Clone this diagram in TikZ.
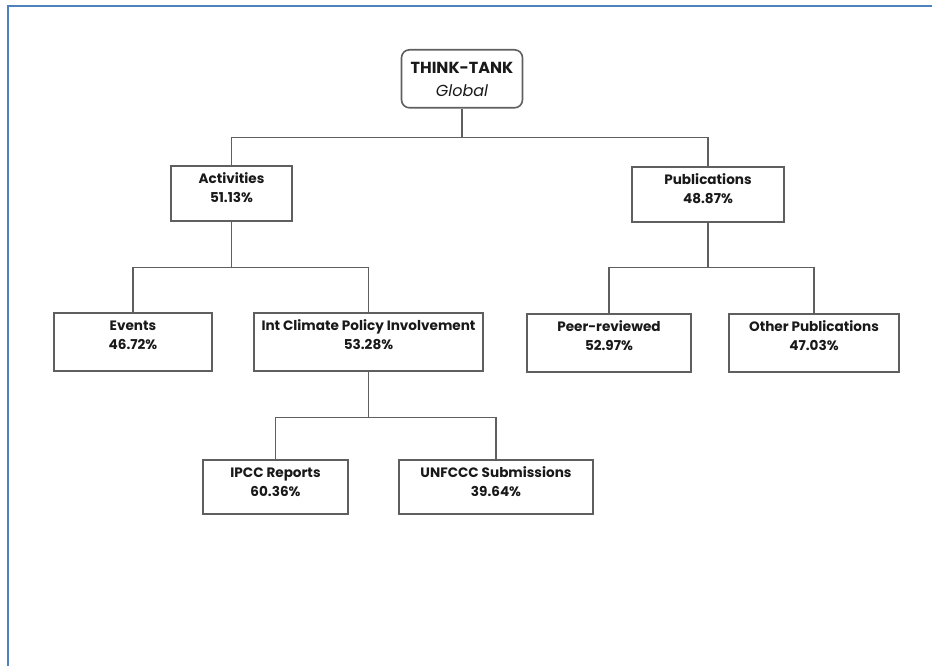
\documentclass[tikz,border=0pt]{standalone}
\usepackage{fontspec}
\setmainfont{Poppins}
\usepackage{tikz}
\definecolor{marco}{RGB}{79,129,189}
\definecolor{linea}{RGB}{95,95,95}
\definecolor{letra}{RGB}{25,25,25}
\tikzstyle{caja}=[draw=linea,line width=1.2pt,anchor=north,align=center,inner sep=0pt,text height=27.75pt,text=letra,font=\fontsize{10.2}{14.25}\selectfont\bfseries]
\tikzstyle{uno}=[caja,text depth=13.5pt]
\tikzstyle{dos}=[caja,text depth=15.75pt]
\tikzstyle{tres}=[caja,text depth=12.75pt]
\tikzstyle{raiz}=[caja,rounded corners=6pt,text height=35.25pt,text depth=8.25pt,font=\fontsize{12}{17.25}\selectfont\bfseries]
\tikzstyle{conector}=[draw=linea,line width=1.2pt]

\begin{document}
\begin{tikzpicture}[x=0.75pt,y=-0.75pt]
    \useasboundingbox (0,0) rectangle (932,666);
    \draw [marco,line width=1.6pt] (8,666) -- (8,6) -- (932,6);
    % arbol
    \node [raiz,minimum width=90.75pt] (tt) at (462,49) {THINK-TANK\\{\mdseries\itshape Global}};
    \node [uno,minimum width=90.75pt] (act) at (231.5,165) {Activities\\51.13\%};
    \node [uno,minimum width=114pt] (pub) at (708,166) {Publications\\48.87\%};
    \node [dos,minimum width=118.5pt] (evt) at (133,312) {Events\\46.72\%};
    \node [dos,minimum width=171.75pt] (icp) at (368.5,312) {Int Climate Policy Involvement\\53.28\%};
    \node [dos,minimum width=123pt] (peer) at (609,313) {Peer-reviewed\\52.97\%};
    \node [dos,minimum width=127.5pt] (otra) at (814,313) {Other Publications\\47.03\%};
    \node [tres,minimum width=108.75pt] (ipcc) at (275.5,459) {IPCC Reports\\60.36\%};
    \node [tres,minimum width=145.5pt] (unf) at (496,459) {UNFCCC Submissions\\39.64\%};
    % lineas
    \draw [conector] (tt.south) -- ++(0,29) -| (act.north);
    \draw [conector] (tt.south) -- ++(0,29) -| (pub.north);
    \draw [conector] (act.south) -- ++(0,46) -| (evt.north);
    \draw [conector] (act.south) -- ++(0,46) -| (icp.north);
    \draw [conector] (pub.south) -- ++(0,45) -| (peer.north);
    \draw [conector] (pub.south) -- ++(0,45) -| (otra.north);
    \draw [conector] (icp.south) -- ++(0,46) -| (ipcc.north);
    \draw [conector] (icp.south) -- ++(0,46) -| (unf.north);
\end{tikzpicture}
\end{document}
